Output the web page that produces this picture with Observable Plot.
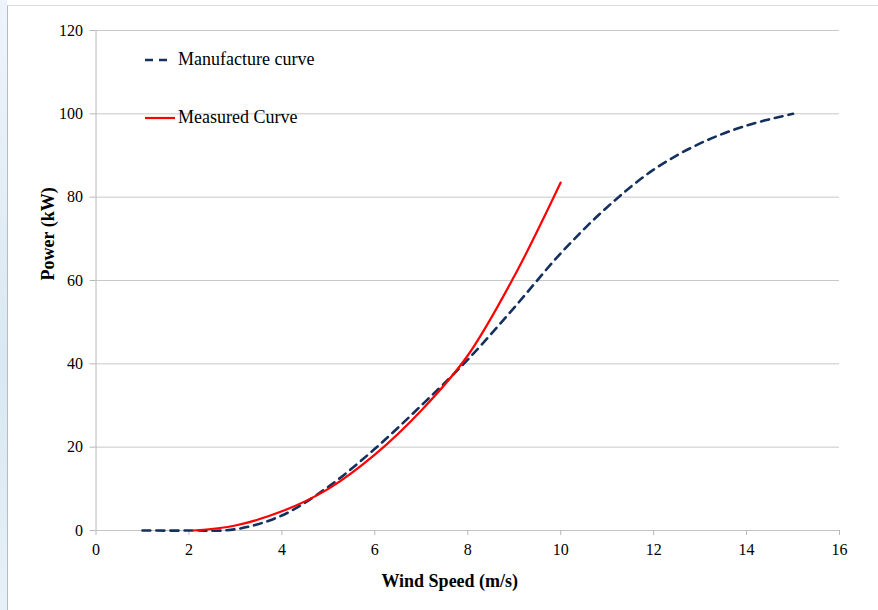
<!DOCTYPE html>
<html>
<head>
<meta charset="utf-8">
<script src="https://cdn.jsdelivr.net/npm/d3@7"></script>
<script src="https://cdn.jsdelivr.net/npm/@observablehq/plot@0.6"></script>
<style>
  html, body { margin: 0; padding: 0; background: #fff; }
  #wrap { position: relative; width: 878px; height: 610px; overflow: hidden; background: #fff; }
  #edge { position: absolute; left: 0; top: 0; width: 7px; height: 610px;
          background: linear-gradient(to bottom, #eef4f9, #d9e8f3 60%, #e6f0f7); }
  #frame { position: absolute; left: 7px; top: 5px; right: 0; bottom: 0;
           border-left: 1px solid #b4bcc4; border-top: 1px solid #dcdcdc; }
  #chart { position: absolute; left: 0; top: 0; }
  #chart svg text { font-family: "Liberation Serif", "Times New Roman", serif !important; }
  #legend { position: absolute; left: 144px; top: 0; font-family: "Liberation Serif", "Times New Roman", serif;
            font-size: 18px; color: #000; }
  .row { position: absolute; left: 0; white-space: nowrap; display: flex; align-items: center; }
  .row svg { display: block; }
</style>
</head>
<body>
<div id="wrap">
  <div id="edge"></div>
  <div id="frame"></div>
  <div id="chart"></div>
  <div id="legend">
    <div class="row" style="top:49px"><svg width="24" height="6" style="margin-right:10px"><line x1="1" y1="3" x2="24" y2="3" stroke="#14305e" stroke-width="2.6" stroke-dasharray="8,6"/></svg><span>Manufacture curve</span></div>
    <div class="row" style="top:107px"><svg width="31" height="6" style="margin-right:3px"><line x1="1" y1="3" x2="31" y2="3" stroke="#ff0000" stroke-width="2.2"/></svg><span>Measured Curve</span></div>
  </div>
</div>
<script>
// Manufacture curve (dashed)
const manufSpeed = [1, 2, 3, 4, 5, 6, 7, 8, 9, 10, 11, 12, 13, 14, 15];
const manufPower = [0, 0, 0.3, 3.6, 10.5, 19.6, 30, 41, 53.5, 66.5, 77.6, 86.6, 92.9, 97.2, 100];
// Measured curve (solid red)
const measSpeed = [2.1, 3, 4, 5, 6, 7, 8, 9, 10];
const measPower = [0, 1.2, 4.6, 10, 18.2, 28.8, 42, 61, 83.5];

const xTicks = [0, 2, 4, 6, 8, 10, 12, 14, 16];
const yTicks = [0, 20, 40, 60, 80, 100, 120];
const xTitle = "Wind Speed (m/s)";
const yTitle = "Power (kW)";

const manuf = manufSpeed.map((x, i) => ({x, y: manufPower[i]}));
const meas = measSpeed.map((x, i) => ({x, y: measPower[i]}));

const font = "'Liberation Serif', 'Times New Roman', serif";

const chart = Plot.plot({
  width: 878,
  height: 610,
  marginLeft: 95.5,
  marginRight: 39,
  marginTop: 30,
  marginBottom: 80,
  style: {fontFamily: font, background: "transparent", overflow: "visible"},
  x: {domain: [0, 16]},
  y: {domain: [0, 120]},
  marks: [
    Plot.gridY(yTicks.filter(d => d > 0), {stroke: "#c8c8c8", strokeOpacity: 1, strokeWidth: 1}),
    Plot.ruleX([0], {stroke: "#b8b8b8", strokeWidth: 1}),
    Plot.ruleY([0], {stroke: "#c4c4c4", strokeWidth: 1.2}),
    Plot.axisY(yTicks, {text: null, tickSize: 6, stroke: "#b8b8b8", label: null}),
    Plot.axisY(yTicks, {tickSize: 0, tickPadding: 13, fontSize: 16, fill: "#000", label: null}),
    Plot.axisX(xTicks, {text: null, tickSize: 5, stroke: "#b8b8b8", label: null}),
    Plot.axisX(xTicks, {tickSize: 0, tickPadding: 13, fontSize: 16, fill: "#000", label: null}),
    Plot.line(manuf, {x: "x", y: "y", stroke: "#14305e", strokeWidth: 2.6,
      strokeDasharray: "8,6", curve: "catmull-rom"}),
    Plot.line(meas, {x: "x", y: "y", stroke: "#ff0000", strokeWidth: 2.2, curve: "catmull-rom"}),
    Plot.text([xTitle], {frameAnchor: "bottom", dx: -18, dy: 56, fontSize: 18,
      fontWeight: "bold", fill: "#000"}),
    Plot.text([yTitle], {frameAnchor: "left", dx: -48, rotate: -90, fontSize: 18,
      fontWeight: "bold", fill: "#000"})
  ]
});
document.getElementById("chart").appendChild(chart);
</script>
</body>
</html>
